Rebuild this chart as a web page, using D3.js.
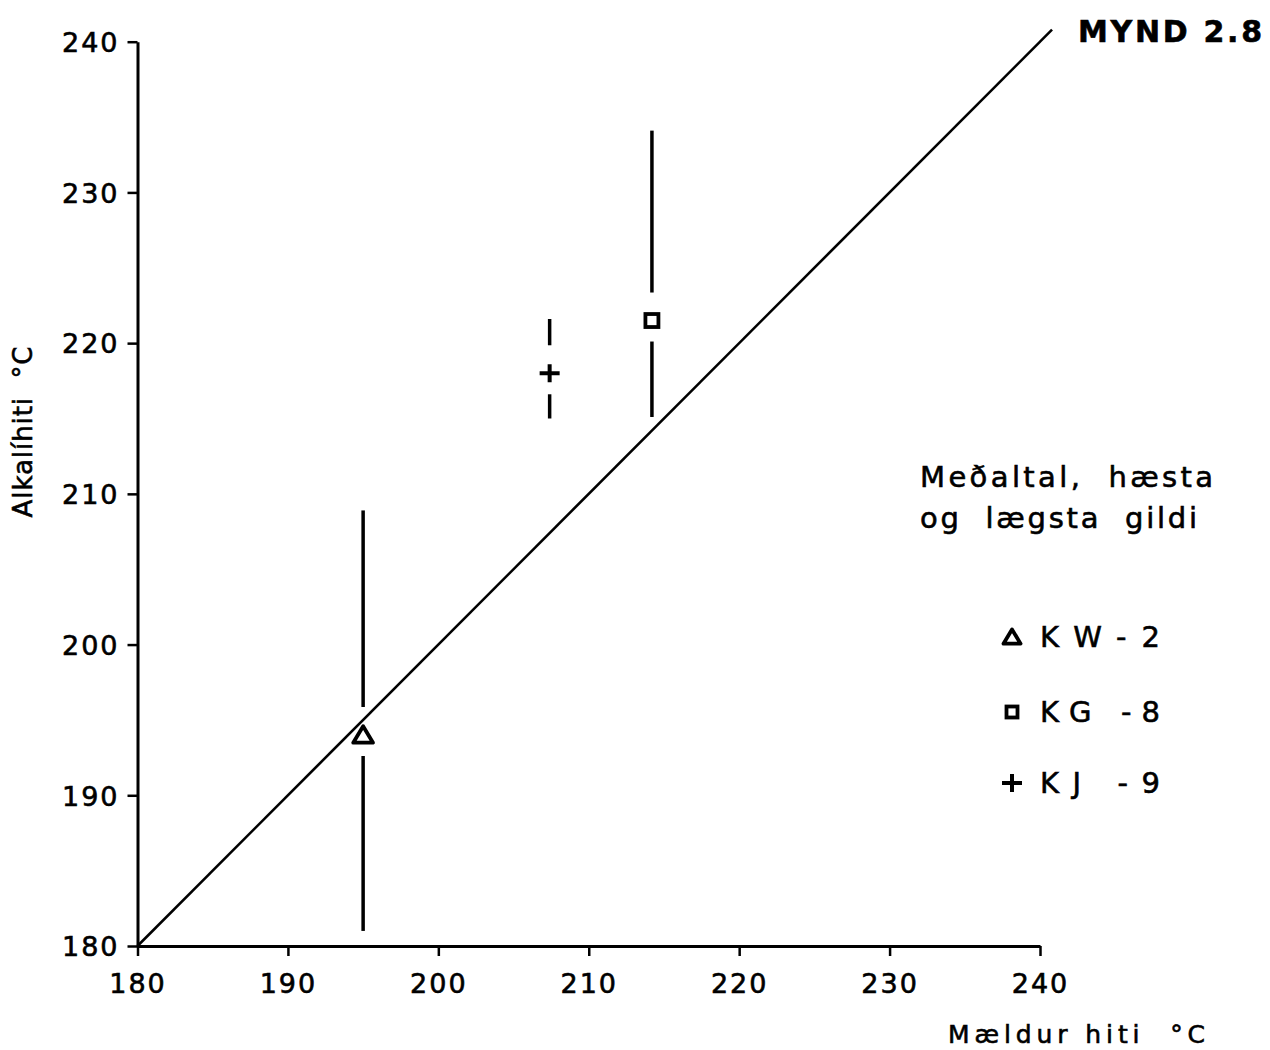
<!DOCTYPE html>
<html>
<head>
<meta charset="utf-8">
<script src="https://cdn.jsdelivr.net/npm/d3@7"></script>
<style>
  body { margin: 0; background: #fff; }
  text { font-family: "DejaVu Sans", sans-serif; fill: #000; stroke: #000; stroke-width: 0.6px; white-space: pre; }
</style>
</head>
<body>
<script>
// Alkalíhiti á móti mældum hita
var w = 1270, h = 1050;

var holur = ["KW-2", "KG -8", "KJ -9"];
var taknmynd = ["triangle", "square", "plus"];
var maeldur = [195, 214.2, 207.4];
var medaltal = [194, 221.5, 218];
var haest = [208.9, 234.1, 221.6];
var laegst = [181, 215.1, 215];

var tickVals = [180, 190, 200, 210, 220, 230, 240];
var linaFra = 180, linaTil = 240.8;

var x = d3.scaleLinear().domain([180, 240]).range([137.5, 1040]);
var y = d3.scaleLinear().domain([180, 240]).range([946, 41.7]);

var svg = d3.select("body").append("svg")
  .attr("width", w)
  .attr("height", h);

// axes
var xAxis = d3.axisBottom(x).tickValues(tickVals).tickSize(10).tickSizeOuter(0).tickFormat(d3.format("d"));
var yAxis = d3.axisLeft(y).tickValues(tickVals).tickSize(10).tickSizeOuter(0).tickFormat(d3.format("d"));

var gx = svg.append("g").attr("transform", "translate(0," + y(180) + ")").call(xAxis);
var gy = svg.append("g").attr("transform", "translate(" + x(180) + ",0)").call(yAxis);

[gx, gy].forEach(function(g) {
  g.select(".domain").attr("stroke", "#000").attr("stroke-width", 3);
  g.selectAll(".tick line").attr("stroke", "#000").attr("stroke-width", 2.5);
  g.selectAll(".tick text")
    .attr("fill", "#000")
    .style("font-family", "DejaVu Sans, sans-serif")
    .style("font-size", "27px")
    .style("letter-spacing", "2px");
});
gx.selectAll(".tick text").attr("y", 28);
gy.selectAll(".tick text").attr("x", -18).attr("dy", "0.36em");

// 1:1 line
svg.append("line")
  .attr("x1", x(linaFra)).attr("y1", y(linaFra))
  .attr("x2", x(linaTil)).attr("y2", y(linaTil))
  .attr("stroke", "#000").attr("stroke-width", 2.6);

// error bars with a gap around the marker
var gapUp = 28, gapDown = 21;
holur.forEach(function(hola, i) {
  var cx = x(maeldur[i]), cy = y(medaltal[i]);
  svg.append("line")
    .attr("x1", cx).attr("x2", cx)
    .attr("y1", y(haest[i])).attr("y2", cy - gapUp)
    .attr("stroke", "#000").attr("stroke-width", 3.5);
  svg.append("line")
    .attr("x1", cx).attr("x2", cx)
    .attr("y1", cy + gapDown).attr("y2", y(laegst[i]))
    .attr("stroke", "#000").attr("stroke-width", 3.5);
});

function teiknaTakn(g, tegund, stor) {
  if (tegund == "triangle") {
    var s = stor ? 1.1 : 0.95;
    g.append("path")
      .attr("d", "M0," + (-8 * s) + "L" + (9 * s) + "," + (7 * s) + "L" + (-9 * s) + "," + (7 * s) + "Z")
      .attr("fill", "none").attr("stroke", "#000").attr("stroke-width", 3.8)
      .attr("stroke-linejoin", "round");
  } else if (tegund == "square") {
    var a = stor ? 13 : 11;
    g.append("rect")
      .attr("x", -a / 2).attr("y", -a / 2).attr("width", a).attr("height", a)
      .attr("fill", "none").attr("stroke", "#000").attr("stroke-width", 3.8);
  } else {
    g.append("path")
      .attr("d", "M-10,0H10M0,-9V9")
      .attr("stroke", "#000").attr("stroke-width", 4);
  }
}

// markers at the means
holur.forEach(function(hola, i) {
  var g = svg.append("g")
    .attr("transform", "translate(" + x(maeldur[i]) + "," + y(medaltal[i]) + ")");
  teiknaTakn(g, taknmynd[i], true);
});

// legend
svg.append("text").attr("x", 920).attr("y", 487)
  .attr("textLength", 293).attr("lengthAdjust", "spacing")
  .style("font-size", "29px")
  .text("Meðaltal,  hæsta");
svg.append("text").attr("x", 920).attr("y", 528)
  .attr("textLength", 277).attr("lengthAdjust", "spacing")
  .style("font-size", "29px")
  .text("og  lægsta  gildi");

var legY = [637, 712, 783];
holur.forEach(function(hola, i) {
  var g = svg.append("g").attr("transform", "translate(1012," + legY[i] + ")");
  teiknaTakn(g, taknmynd[i], false);
  svg.append("text")
    .attr("x", 1040).attr("y", legY[i] + 10)
    .attr("textLength", 120).attr("lengthAdjust", "spacing")
    .style("font-size", "29px")
    .text(hola);
});

// titles
svg.append("text").attr("x", 1078).attr("y", 42)
  .attr("textLength", 184).attr("lengthAdjust", "spacing")
  .style("font-size", "30px").style("font-weight", "bold")
  .text("MYND 2.8");

svg.append("text").attr("x", 948).attr("y", 1043)
  .attr("textLength", 257).attr("lengthAdjust", "spacing")
  .style("font-size", "25px")
  .text("Mældur hiti  °C");

svg.append("text")
  .attr("transform", "translate(32,432) rotate(-90)")
  .attr("text-anchor", "middle")
  .attr("textLength", 171).attr("lengthAdjust", "spacing")
  .style("font-size", "26px")
  .text("Alkalíhiti  °C");
</script>
</body>
</html>
